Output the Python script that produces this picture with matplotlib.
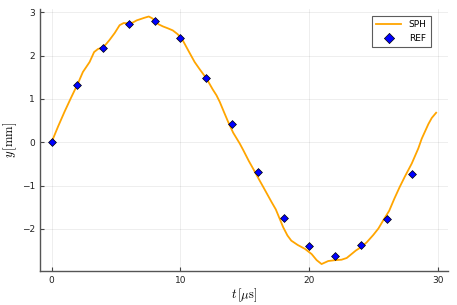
import matplotlib
matplotlib.use("Agg")
from matplotlib import pyplot as plt
import numpy as np

plt.rcParams['mathtext.fontset'] = 'cm'

# SPH curve
sph_t = [0.0, 0.5, 1.0, 1.5, 2.05, 2.43, 2.95, 3.3, 3.6, 3.99, 4.25, 4.5, 4.9,
         5.28, 5.6, 6.0, 6.3, 6.6, 6.9, 7.2, 7.54, 7.8, 8.0, 8.3, 8.65, 9.0,
         9.4, 9.75, 10.07, 10.6, 11.1, 11.5, 12.02, 12.5, 12.8, 13.05, 13.4,
         13.7, 14.09, 14.6, 14.87, 15.3, 15.77, 16.1, 16.42, 17.07, 17.4,
         17.72, 17.97, 18.3, 18.6, 19.1, 19.66, 20.18, 20.57, 20.95, 21.47,
         22.0, 22.5, 22.9, 23.15, 23.6, 24.06, 24.45, 24.96, 25.36, 25.74,
         26.2, 26.6, 27.0, 27.4, 27.95, 28.46, 28.72, 29.24, 29.5, 29.84]
sph_y = [0.0, 0.36, 0.70, 1.02, 1.36, 1.62, 1.85, 2.08, 2.15, 2.19, 2.27, 2.36,
         2.52, 2.70, 2.75, 2.74, 2.76, 2.81, 2.84, 2.87, 2.90, 2.86, 2.81,
         2.72, 2.67, 2.63, 2.58, 2.50, 2.41, 2.12, 1.85, 1.68, 1.47, 1.22,
         1.08, 0.93, 0.68, 0.47, 0.22, -0.03, -0.18, -0.43, -0.68, -0.86,
         -1.03, -1.38, -1.55, -1.78, -1.96, -2.15, -2.27, -2.37, -2.46, -2.58,
         -2.72, -2.81, -2.74, -2.72, -2.71, -2.67, -2.61, -2.50, -2.41, -2.31,
         -2.14, -1.99, -1.80, -1.58, -1.30, -1.04, -0.80, -0.49, -0.14, 0.08,
         0.42, 0.56, 0.68]

# reference points
ref_t = [0, 2, 4, 6, 8, 10, 12, 14, 16, 18, 20, 22, 24, 26, 28]
ref_y = [0.0, 1.31, 2.18, 2.73, 2.80, 2.41, 1.47, 0.43, -0.68, -1.74, -2.40,
         -2.63, -2.37, -1.77, -0.74]

xticks = [0, 10, 20, 30]
yticks = [-2, -1, 0, 1, 2, 3]

fig = plt.figure(figsize=(4.57, 3.05), dpi=100)
ax = fig.add_axes([0.0875, 0.1115, 0.8925, 0.86])

ax.plot(sph_t, sph_y, color='#FFA500', lw=1.3, label='SPH', zorder=2)
ax.scatter(ref_t, ref_y, marker='D', s=16, color='#0000FF',
           edgecolors='black', linewidths=0.5, label='REF', zorder=3)

ax.set_xlim(-0.9, 30.75)
ax.set_ylim(-2.97, 3.08)
ax.set_xticks(xticks)
ax.set_yticks(yticks)
ax.set_yticklabels(['\u22122', '\u22121', '0', '1', '2', '3'])
ax.tick_params(direction='in', length=3, width=0.8, labelsize=6.5,
               color='#444444', labelcolor='#222222')
ax.grid(True, color='black', alpha=0.08, lw=0.6)

for side in ['top', 'right']:
    ax.spines[side].set_visible(False)
for side in ['left', 'bottom']:
    ax.spines[side].set_color('#555555')
    ax.spines[side].set_linewidth(1.0)

ax.set_xlabel(r'$t\,[\mu\mathrm{s}]$', fontsize=9, labelpad=1)
ax.set_ylabel(r'$y\,[\mathrm{mm}]$', fontsize=9, labelpad=2)

leg = ax.legend(loc='upper right', fontsize=6.5, frameon=True, fancybox=False,
                edgecolor='#333333', borderpad=0.5, handlelength=2.8,
                markerscale=1.3, bbox_to_anchor=(0.97, 0.99))
leg.get_frame().set_linewidth(0.8)

fig.savefig('out.png', dpi=100)
